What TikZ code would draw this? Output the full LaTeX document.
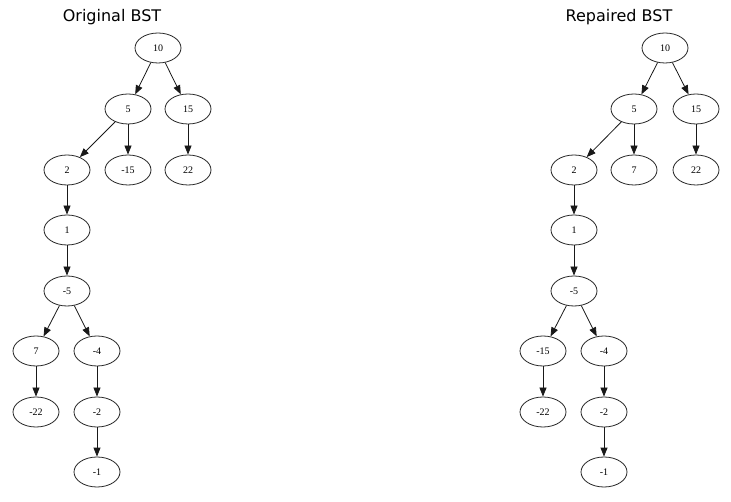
\documentclass[tikz,border=0pt]{standalone}
\usepackage{fontspec}
\setmainfont{Liberation Serif}
\newfontfamily\titlefont{DejaVu Sans}
\usetikzlibrary{shapes.geometric,arrows.meta}
\begin{document}
\begin{tikzpicture}[x=1pt,y=-1pt,
  bstnode/.style={ellipse,draw=black!85,line width=0.8pt,minimum width=46pt,minimum height=30pt,inner sep=0pt,font=\fontsize{10}{12}\selectfont},
  edge/.style={draw=black!90,line width=0.8pt,-{Triangle[length=9pt,width=7pt]}},
  title/.style={font=\titlefont\fontsize{16}{19}\selectfont}]
\useasboundingbox[fill=white] (0,0) rectangle (731,502);
% titles
\node[title] (t1) at (112,17) {Original BST};
\node[title] (t2) at (619,17) {Repaired BST};
% left tree
\node[bstnode] (a10) at (158,48) {10};
\node[bstnode] (a5) at (128,109) {5};
\node[bstnode] (a15) at (188,109) {15};
\node[bstnode] (a2) at (67,170) {2};
\node[bstnode] (am15) at (128,170) {-15};
\node[bstnode] (a22) at (188,170) {22};
\node[bstnode] (a1) at (67,230) {1};
\node[bstnode] (am5) at (67,291) {-5};
\node[bstnode] (a7) at (36,351) {7};
\node[bstnode] (am4) at (97,351) {-4};
\node[bstnode] (am22) at (36,412) {-22};
\node[bstnode] (am2) at (97,412) {-2};
\node[bstnode] (am1) at (97,472) {-1};
\draw[edge] (a10) -- (a5);
\draw[edge] (a10) -- (a15);
\draw[edge] (a5) -- (a2);
\draw[edge] (a5) -- (am15);
\draw[edge] (a15) -- (a22);
\draw[edge] (a2) -- (a1);
\draw[edge] (a1) -- (am5);
\draw[edge] (am5) -- (a7);
\draw[edge] (am5) -- (am4);
\draw[edge] (a7) -- (am22);
\draw[edge] (am4) -- (am2);
\draw[edge] (am2) -- (am1);
% right tree
\node[bstnode] (b10) at (665,48) {10};
\node[bstnode] (b5) at (634,109) {5};
\node[bstnode] (b15) at (696,109) {15};
\node[bstnode] (b2) at (574,170) {2};
\node[bstnode] (b7) at (634,170) {7};
\node[bstnode] (b22) at (696,170) {22};
\node[bstnode] (b1) at (574,230) {1};
\node[bstnode] (bm5) at (574,291) {-5};
\node[bstnode] (bm15) at (543,351) {-15};
\node[bstnode] (bm4) at (604,351) {-4};
\node[bstnode] (bm22) at (543,412) {-22};
\node[bstnode] (bm2) at (604,412) {-2};
\node[bstnode] (bm1) at (604,472) {-1};
\draw[edge] (b10) -- (b5);
\draw[edge] (b10) -- (b15);
\draw[edge] (b5) -- (b2);
\draw[edge] (b5) -- (b7);
\draw[edge] (b15) -- (b22);
\draw[edge] (b2) -- (b1);
\draw[edge] (b1) -- (bm5);
\draw[edge] (bm5) -- (bm15);
\draw[edge] (bm5) -- (bm4);
\draw[edge] (bm15) -- (bm22);
\draw[edge] (bm4) -- (bm2);
\draw[edge] (bm2) -- (bm1);
\end{tikzpicture}
\end{document}
